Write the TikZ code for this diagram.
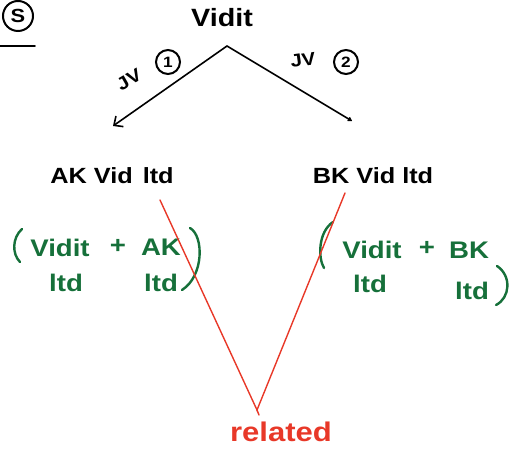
\documentclass[tikz,border=0pt]{standalone}
\usepackage{fontspec}
\setmainfont{Liberation Sans}[FakeStretch=1.15]
\usetikzlibrary{arrows.meta}
\definecolor{inkgreen}{RGB}{22,112,58}
\definecolor{inkred}{RGB}{232,56,40}
\tikzset{
  blk/.style={font=\bfseries\fontsize{22}{24}\selectfont, inner sep=0pt, text=black},
  grn/.style={font=\bfseries\fontsize{24}{26}\selectfont, inner sep=0pt, text=inkgreen},
  red/.style={font=\bfseries\fontsize{27}{29}\selectfont, inner sep=0pt, text=inkred},
  circnum/.style={draw, circle, line width=2pt, minimum size=24pt, inner sep=0pt, font=\bfseries\fontsize{15}{17}\selectfont},
  ink/.style={line width=1.6pt, line cap=round},
  gstroke/.style={line width=2.4pt, inkgreen, line cap=round},
  rstroke/.style={line width=1.4pt, inkred, line cap=round}
}
\begin{document}
\begin{tikzpicture}[x=1pt,y=-1pt]
\useasboundingbox (0,0) rectangle (514,454);
% heading marker
\node[circnum, minimum size=30pt, font=\bfseries\fontsize{19}{21}\selectfont] (s) at (18,16) {S};
\coordinate (ulA) at (0,46);
\coordinate (ulB) at (35,46);
\draw[ink, line width=1.8pt] (ulA) -- (ulB);
% top
\node[blk, font=\bfseries\fontsize{25}{27}\selectfont] (vidit) at (222,18) {Vidit};
\coordinate (apex) at (227,46);
\coordinate (lend) at (113,126);
\coordinate (rend) at (352,121);
\draw[ink, -{Straight Barb[length=7pt,width=13pt,line width=1.6pt]}] (apex) -- (lend);
\draw[ink, -{Latex[round,length=5pt,width=6pt]}] (apex) -- (rend);
% JV labels
\node[blk, rotate=30, font=\bfseries\fontsize{18}{20}\selectfont] (jv1) at (129,80) {JV};
\node[circnum] (c1) at (168,62) {1};
\node[blk, font=\bfseries\fontsize{18}{20}\selectfont, rotate=8] (jv2) at (303,60) {JV};
\node[circnum] (c2) at (346,62) {2};
% companies
\node[blk] (ak) at (112,176) {AK Vid\hspace{10pt}ltd};
\node[blk] (bk) at (373,176) {BK Vid ltd};
% green left block
\node[grn] (lv) at (60,248) {Vidit};
\node[grn] (lp) at (118,246) {+};
\node[grn] (lak) at (161,247) {AK};
\node[grn] (ll1) at (66,283) {ltd};
\node[grn] (ll2) at (161,283) {ltd};
\draw[gstroke] (22,229) .. controls (12,238) and (12,254) .. (20,262);
\draw[gstroke] (190,228) .. controls (204,236) and (204,276) .. (182,290);
% green right block
\node[grn] (rv) at (372,250) {Vidit};
\node[grn] (rp) at (427,248) {+};
\node[grn] (rbk) at (469,250) {BK};
\node[grn] (rl1) at (370,284) {ltd};
\node[grn] (rl2) at (472,291) {ltd};
\draw[gstroke] (333,222) .. controls (318,232) and (318,258) .. (324,268);
\draw[gstroke] (497,266) .. controls (512,276) and (510,298) .. (496,305);
% red
\coordinate (ra) at (160,200);
\coordinate (rb) at (345,193);
\coordinate (rv0) at (257,410);
\node[red] (rel) at (281,432) {related};
\draw[rstroke] (ra) -- (rv0) -- (rb);
\draw[rstroke] (rv0) -- (259,415);
\end{tikzpicture}
\end{document}
